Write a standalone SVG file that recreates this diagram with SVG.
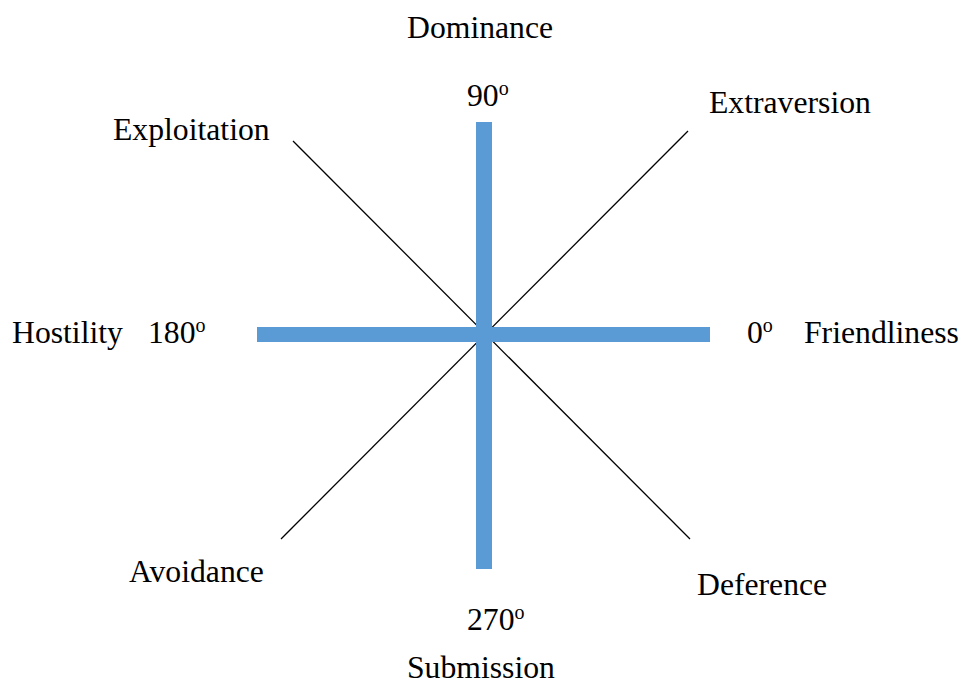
<svg xmlns="http://www.w3.org/2000/svg" width="962" height="684" viewBox="0 0 962 684">
<style>
text{font-family:"Liberation Serif","Times New Roman",serif;font-size:31.7px;fill:#000}
.sup{font-size:20px}
.axis{stroke:#5b9bd5;stroke-width:16;fill:none}
.diag{stroke:#000;stroke-width:1.3;fill:none}
</style>
<rect width="962" height="684" fill="#fff"/>
<g id="connectors">
<line class="diag" x1="293" y1="141" x2="690" y2="539"/>
<line class="diag" x1="688" y1="131" x2="281" y2="539"/>
<line class="axis" x1="484" y1="122" x2="484" y2="569"/>
<line class="axis" x1="257" y1="334.5" x2="710" y2="334.5" style="stroke-width:15"/>
</g>
<g id="dominance"><text x="407" y="38">Dominance</text></g>
<g id="deg90"><text x="467" y="106">90<tspan class="sup" dy="-11">o</tspan></text></g>
<g id="extraversion"><text x="709" y="113">Extraversion</text></g>
<g id="exploitation"><text x="113" y="140">Exploitation</text></g>
<g id="hostility"><text x="12" y="343">Hostility</text></g>
<g id="deg180"><text x="148" y="343">180<tspan class="sup" dy="-11">o</tspan></text></g>
<g id="deg0"><text x="747" y="343">0<tspan class="sup" dy="-11">o</tspan></text></g>
<g id="friendliness"><text x="804" y="343">Friendliness</text></g>
<g id="avoidance"><text x="129" y="582">Avoidance</text></g>
<g id="deference"><text x="697" y="595">Deference</text></g>
<g id="deg270"><text x="467" y="630">270<tspan class="sup" dy="-11">o</tspan></text></g>
<g id="submission"><text x="407" y="678">Submission</text></g>
</svg>
